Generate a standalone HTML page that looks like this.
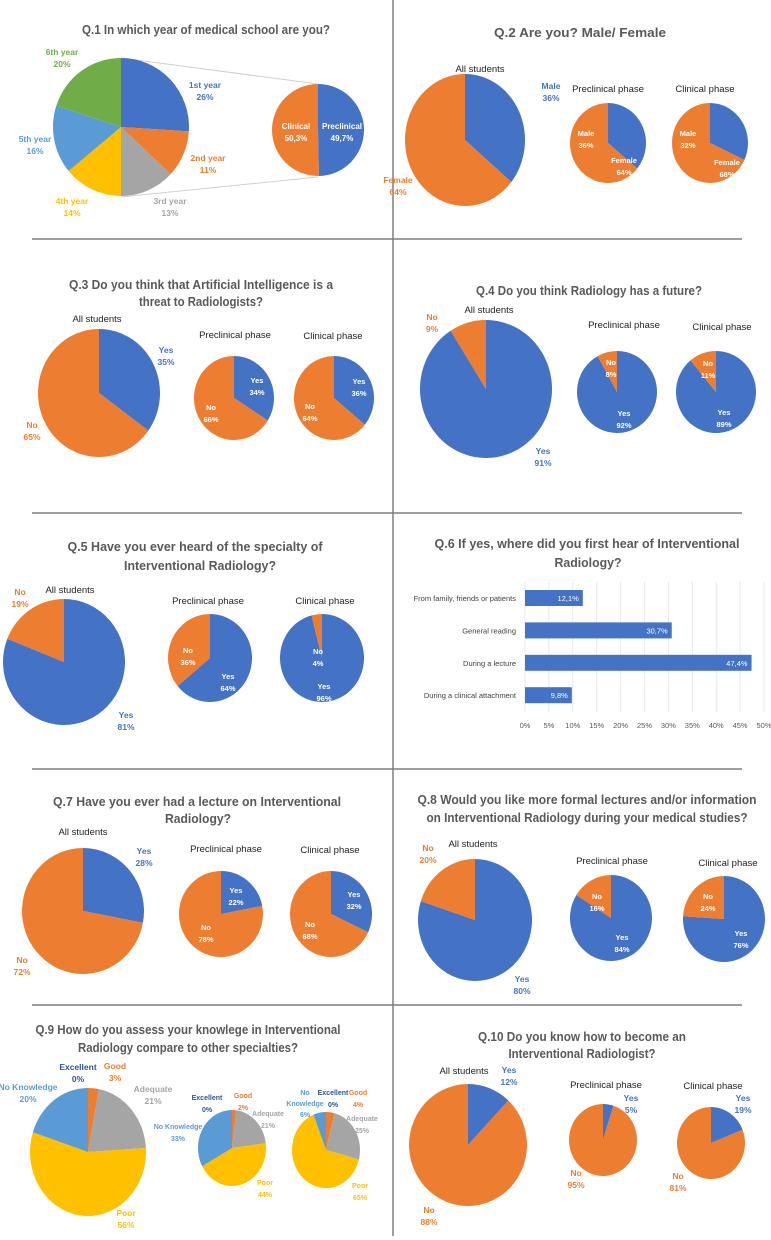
<!DOCTYPE html>
<html><head><meta charset="utf-8"><style>
html,body{margin:0;padding:0;background:#fff;}
svg{display:block;font-family:"Liberation Sans",sans-serif;}
</style></head><body>
<svg id="fig" width="771" height="1240" viewBox="0 0 771 1240" xmlns="http://www.w3.org/2000/svg">
<rect width="771" height="1240" fill="#fff"/>
<g id="dividers" stroke="#7f7f7f" stroke-width="1.5">
<line x1="393" y1="0" x2="393" y2="1236"/>
<line x1="32" y1="239" x2="742" y2="239"/>
<line x1="32" y1="513" x2="742" y2="513"/>
<line x1="32" y1="769" x2="742" y2="769"/>
<line x1="32" y1="1005" x2="742" y2="1005"/>
</g>
<g id="layer"></g>
</svg>
<script>
// ---- data ----
const q1Years = [26, 11, 13, 14, 16, 20];
const q1Phase = [49.7, 50.3];
const q2All = [36, 64], q2Pre = [36, 64], q2Cli = [32, 68];
const q3All = [35, 65], q3Pre = [34, 66], q3Cli = [36, 64];
const q4All = [91, 9], q4Pre = [92, 8], q4Cli = [89, 11];
const q5All = [81, 19], q5Pre = [64, 36], q5Cli = [96, 4];
const q6Categories = ["From family, friends or patients", "General reading", "During a lecture", "During a clinical attachment"];
const q6Values = [12.1, 30.7, 47.4, 9.8];
const q6ValueLabels = ["12,1%", "30,7%", "47,4%", "9,8%"];
const q6Ticks = [0, 5, 10, 15, 20, 25, 30, 35, 40, 45, 50];
const q7All = [28, 72], q7Pre = [22, 78], q7Cli = [32, 68];
const q8All = [80, 20], q8Pre = [84, 16], q8Cli = [76, 24];
// order: Good, Adequate, Poor, No Knowledge, Excellent
const q9All = [3, 21, 56, 20, 0], q9Pre = [2, 21, 44, 33, 0], q9Cli = [4, 25, 65, 6, 0];
const q10All = [12, 88], q10Pre = [5, 95], q10Cli = [19, 81];

const BLUE = "#4472C4", ORANGE = "#ED7D31", GRAY = "#A5A5A5", YELLOW = "#FFC000", LBLUE = "#5B9BD5", GREEN = "#70AD47", TITLE = "#595959";
const NS = "http://www.w3.org/2000/svg";
const layer = document.getElementById("layer");

function mk(tag, attrs, parent) {
  const el = document.createElementNS(NS, tag);
  for (const k in attrs) el.setAttribute(k, attrs[k]);
  (parent || layer).appendChild(el);
  return el;
}
function txt(x, y, s, color, size, weight, anchor, name, len) {
  const el = mk("text", {x: x, y: y, fill: color, "font-size": size, "font-weight": weight, "text-anchor": anchor || "middle"});
  if (len) { el.setAttribute("textLength", len); el.setAttribute("lengthAdjust", "spacingAndGlyphs"); }
  el.textContent = s;
  
  
  return el;
}
function lab(x, y, l1, l2, color, name, size) {
  txt(x, y + 3, l1, color, size || 8.5, "bold", "middle", name + "-label");
  if (l2 !== undefined) txt(x, y + 15, l2, color, size || 8.5, "bold", "middle", name + "-value");
}
function pie(cx, cy, rx, ry, values, colors, name) {
  const g = mk("g", {});
  
  
  const total = values.reduce((a, b) => a + b, 0);
  let acc = 0;
  values.forEach((v, i) => {
    if (v <= 0) { acc += v; return; }
    const a0 = acc / total * 2 * Math.PI; acc += v;
    const a1 = acc / total * 2 * Math.PI;
    const x0 = cx + rx * Math.sin(a0), y0 = cy - ry * Math.cos(a0);
    const x1 = cx + rx * Math.sin(a1), y1 = cy - ry * Math.cos(a1);
    const large = (a1 - a0) > Math.PI ? 1 : 0;
    let d;
    if (v >= total) d = `M${cx - rx},${cy} A${rx},${ry} 0 1 1 ${cx + rx},${cy} A${rx},${ry} 0 1 1 ${cx - rx},${cy} Z`;
    else d = `M${cx},${cy} L${x0},${y0} A${rx},${ry} 0 ${large} 1 ${x1},${y1} Z`;
    const p = mk("path", {d: d, fill: colors[i]}, g);
    
    
  });
}
const YN = [BLUE, ORANGE];

// ---- Q1 ----
txt(206, 34, "Q.1 In which year of medical school  are you?", TITLE, 13, "bold", "middle", "q1-title", 248);
mk("line", {x1: 121, y1: 58, x2: 318, y2: 84, stroke: "#d0d0d0", "stroke-width": 1});
mk("line", {x1: 121, y1: 197, x2: 318, y2: 177, stroke: "#d0d0d0", "stroke-width": 1});
pie(121, 127, 68, 69, q1Years, [BLUE, ORANGE, GRAY, YELLOW, LBLUE, GREEN], "q1-year-pie");
pie(318, 130, 46, 46, q1Phase, [BLUE, ORANGE], "q1-phase-pie");
lab(62, 52, "6th year", "20%", GREEN, "q1-6th");
lab(205, 85, "1st year", "26%", BLUE, "q1-1st");
lab(35, 139, "5th year", "16%", LBLUE, "q1-5th");
lab(208, 158, "2nd year", "11%", ORANGE, "q1-2nd");
lab(72, 201, "4th year", "14%", YELLOW, "q1-4th");
lab(170, 201, "3rd year", "13%", GRAY, "q1-3rd");
lab(296, 126, "Clinical", "50,3%", "#fff", "q1-clinical", 8);
lab(342, 126, "Preclinical", "49,7%", "#fff", "q1-preclinical", 8);

// ---- Q2 ----
txt(580, 37, "Q.2 Are you? Male/ Female", TITLE, 13, "bold", "middle", "q2-title", 172);
txt(480, 72, "All students", "#222", 9.5, "normal", "middle", "q2-all-students");
txt(608, 92, "Preclinical phase", "#222", 9.5, "normal", "middle", "q2-preclinical");
txt(705, 92, "Clinical phase", "#222", 9.5, "normal", "middle", "q2-clinical");
pie(465, 140, 60, 66, q2All, YN, "q2-all-pie");
pie(608, 143, 38, 40, q2Pre, YN, "q2-pre-pie");
pie(710, 143, 38, 40, q2Cli, YN, "q2-cli-pie");
lab(551, 86, "Male", "36%", BLUE, "q2-all-male");
lab(398, 180, "Female", "64%", ORANGE, "q2-all-female");
lab(586, 133, "Male", "36%", "#fff", "q2-pre-male", 7.5);
lab(624, 160, "Female", "64%", "#fff", "q2-pre-female", 7.5);
lab(688, 133, "Male", "32%", "#fff", "q2-cli-male", 7.5);
lab(727, 162, "Female", "68%", "#fff", "q2-cli-female", 7.5);

// ---- Q3 ----
txt(201, 289, "Q.3 Do you think that  Artificial Intelligence is  a", TITLE, 13, "bold", "middle", "q3-title-1", 264);
txt(201, 306, "threat to Radiologists?", TITLE, 13, "bold", "middle", "q3-title-2", 124);
txt(97, 322, "All students", "#222", 9.5, "normal", "middle", "q3-all-students");
txt(235, 338, "Preclinical phase", "#222", 9.5, "normal", "middle", "q3-preclinical");
txt(333, 339, "Clinical phase", "#222", 9.5, "normal", "middle", "q3-clinical");
pie(99, 393, 61, 64, q3All, YN, "q3-all-pie");
pie(234, 398, 40, 42, q3Pre, YN, "q3-pre-pie");
pie(334, 398, 40, 42, q3Cli, YN, "q3-cli-pie");
lab(166, 350, "Yes", "35%", BLUE, "q3-all-yes");
lab(32, 425, "No", "65%", ORANGE, "q3-all-no");
lab(257, 380, "Yes", "34%", "#fff", "q3-pre-yes", 7.5);
lab(211, 407, "No", "66%", "#fff", "q3-pre-no", 7.5);
lab(359, 381, "Yes", "36%", "#fff", "q3-cli-yes", 7.5);
lab(310, 406, "No", "64%", "#fff", "q3-cli-no", 7.5);

// ---- Q4 ----
txt(589, 295, "Q.4 Do you think Radiology has a future?", TITLE, 13, "bold", "middle", "q4-title", 226);
txt(489, 313, "All students", "#222", 9.5, "normal", "middle", "q4-all-students");
txt(624, 328, "Preclinical phase", "#222", 9.5, "normal", "middle", "q4-preclinical");
txt(722, 330, "Clinical phase", "#222", 9.5, "normal", "middle", "q4-clinical");
pie(486, 389, 66, 69, q4All, YN, "q4-all-pie");
pie(617, 392, 40, 41, q4Pre, YN, "q4-pre-pie");
pie(716, 392, 40, 41, q4Cli, YN, "q4-cli-pie");
lab(432, 317, "No", "9%", ORANGE, "q4-all-no");
lab(543, 451, "Yes", "91%", BLUE, "q4-all-yes");
lab(611, 362, "No", "8%", "#fff", "q4-pre-no", 7.5);
lab(624, 413, "Yes", "92%", "#fff", "q4-pre-yes", 7.5);
lab(708, 363, "No", "11%", "#fff", "q4-cli-no", 7.5);
lab(724, 412, "Yes", "89%", "#fff", "q4-cli-yes", 7.5);

// ---- Q5 ----
txt(195, 551, "Q.5 Have you ever heard of the specialty of", TITLE, 13, "bold", "middle", "q5-title-1", 255);
txt(200, 570, "Interventional Radiology?", TITLE, 13, "bold", "middle", "q5-title-2", 152);
txt(70, 593, "All students", "#222", 9.5, "normal", "middle", "q5-all-students");
txt(208, 604, "Preclinical phase", "#222", 9.5, "normal", "middle", "q5-preclinical");
txt(325, 604, "Clinical phase", "#222", 9.5, "normal", "middle", "q5-clinical");
pie(64, 662, 61, 63, q5All, YN, "q5-all-pie");
pie(210, 658, 42, 44, q5Pre, YN, "q5-pre-pie");
pie(322, 658, 42, 44, q5Cli, YN, "q5-cli-pie");
lab(20, 592, "No", "19%", ORANGE, "q5-all-no");
lab(126, 715, "Yes", "81%", BLUE, "q5-all-yes");
lab(188, 650, "No", "36%", "#fff", "q5-pre-no", 7.5);
lab(228, 676, "Yes", "64%", "#fff", "q5-pre-yes", 7.5);
lab(318, 651, "No", "4%", "#fff", "q5-cli-no", 7.5);
lab(324, 686, "Yes", "96%", "#fff", "q5-cli-yes", 7.5);

// ---- Q6 bar chart ----
txt(587, 548, "Q.6 If yes, where did you first hear of Interventional", TITLE, 13, "bold", "middle", "q6-title-1", 305);
txt(588, 567, "Radiology?", TITLE, 13, "bold", "middle", "q6-title-2", 67);
const x6 = v => 525 + v * 4.78;
const y6 = i => 598 + i * 32.4;
q6Ticks.forEach(t => {
  const gl = mk("line", {x1: x6(t), y1: 582, x2: x6(t), y2: 712, stroke: "#e2e2e2", "stroke-width": 0.8});
  
  
  txt(x6(t), 728, t + "%", "#595959", 7.5, "normal", "middle", "q6-x-tick");
});
q6Values.forEach((v, i) => {
  const r = mk("rect", {x: x6(0), y: y6(i) - 8, width: x6(v) - x6(0), height: 16, fill: BLUE});
  
  
  txt(x6(v) - 4, y6(i) + 3, q6ValueLabels[i], "#fff", 7.5, "normal", "end", "q6-bar-value");
  txt(516, y6(i) + 3, q6Categories[i], "#404040", 7.5, "normal", "end", "q6-category-label");
});

// ---- Q7 ----
txt(197, 806, "Q.7 Have you ever had a lecture on Interventional", TITLE, 13, "bold", "middle", "q7-title-1", 288);
txt(198, 823, "Radiology?", TITLE, 13, "bold", "middle", "q7-title-2", 66);
txt(83, 835, "All students", "#222", 9.5, "normal", "middle", "q7-all-students");
txt(226, 852, "Preclinical phase", "#222", 9.5, "normal", "middle", "q7-preclinical");
txt(330, 853, "Clinical phase", "#222", 9.5, "normal", "middle", "q7-clinical");
pie(83, 911, 61, 63, q7All, YN, "q7-all-pie");
pie(221, 914, 42, 43, q7Pre, YN, "q7-pre-pie");
pie(331, 914, 41, 43, q7Cli, YN, "q7-cli-pie");
lab(144, 851, "Yes", "28%", BLUE, "q7-all-yes");
lab(22, 960, "No", "72%", ORANGE, "q7-all-no");
lab(236, 890, "Yes", "22%", "#fff", "q7-pre-yes", 7.5);
lab(206, 927, "No", "78%", "#fff", "q7-pre-no", 7.5);
lab(354, 894, "Yes", "32%", "#fff", "q7-cli-yes", 7.5);
lab(310, 924, "No", "68%", "#fff", "q7-cli-no", 7.5);

// ---- Q8 ----
txt(587, 804, "Q.8 Would you like more formal lectures and/or information", TITLE, 13, "bold", "middle", "q8-title-1", 339);
txt(587, 822, "on Interventional Radiology during your medical studies?", TITLE, 13, "bold", "middle", "q8-title-2", 321);
txt(473, 847, "All students", "#222", 9.5, "normal", "middle", "q8-all-students");
txt(612, 864, "Preclinical phase", "#222", 9.5, "normal", "middle", "q8-preclinical");
txt(728, 866, "Clinical phase", "#222", 9.5, "normal", "middle", "q8-clinical");
pie(475, 920, 57, 61, q8All, YN, "q8-all-pie");
pie(611, 918, 41, 43, q8Pre, YN, "q8-pre-pie");
pie(724, 919, 41, 43, q8Cli, YN, "q8-cli-pie");
lab(428, 848, "No", "20%", ORANGE, "q8-all-no");
lab(522, 979, "Yes", "80%", BLUE, "q8-all-yes");
lab(597, 896, "No", "16%", "#fff", "q8-pre-no", 7.5);
lab(622, 937, "Yes", "84%", "#fff", "q8-pre-yes", 7.5);
lab(708, 896, "No", "24%", "#fff", "q8-cli-no", 7.5);
lab(741, 933, "Yes", "76%", "#fff", "q8-cli-yes", 7.5);

// ---- Q9 ----
const K9 = [ORANGE, GRAY, YELLOW, LBLUE, BLUE];
txt(188, 1034, "Q.9 How do you assess your knowlege in Interventional", TITLE, 13, "bold", "middle", "q9-title-1", 305);
txt(188, 1052, "Radiology compare to other specialties?", TITLE, 13, "bold", "middle", "q9-title-2", 220);
pie(88, 1152, 58, 64, q9All, K9, "q9-all-pie");
pie(232, 1148, 34, 38, q9Pre, K9, "q9-pre-pie");
pie(326, 1150, 34, 38, q9Cli, K9, "q9-cli-pie");
lab(78, 1067, "Excellent", "0%", "#2F5597", "q9-all-excellent", 8.5);
lab(115, 1066, "Good", "3%", ORANGE, "q9-all-good", 8.5);
lab(28, 1087, "No Knowledge", "20%", LBLUE, "q9-all-noknowledge", 8.5);
lab(153, 1089, "Adequate", "21%", GRAY, "q9-all-adequate", 8.5);
lab(126, 1213, "Poor", "56%", YELLOW, "q9-all-poor", 8.5);
lab(207, 1097, "Excellent", "0%", "#2F5597", "q9-pre-excellent", 7);
lab(243, 1095, "Good", "2%", ORANGE, "q9-pre-good", 7);
lab(268, 1113, "Adequate", "21%", GRAY, "q9-pre-adequate", 7);
lab(178, 1126, "No Knowledge", "33%", LBLUE, "q9-pre-noknowledge", 7);
lab(265, 1182, "Poor", "44%", YELLOW, "q9-pre-poor", 7);
txt(305, 1095, "No", LBLUE, 7, "bold", "middle", "q9-cli-noknowledge-label");
txt(305, 1106, "Knowledge", LBLUE, 7, "bold", "middle", "q9-cli-noknowledge-label-2");
txt(305, 1117, "6%", LBLUE, 7, "bold", "middle", "q9-cli-noknowledge-value");
lab(333, 1092, "Excellent", "0%", "#2F5597", "q9-cli-excellent", 7);
lab(358, 1092, "Good", "4%", ORANGE, "q9-cli-good", 7);
lab(362, 1118, "Adequate", "25%", GRAY, "q9-cli-adequate", 7);
lab(360, 1185, "Poor", "65%", YELLOW, "q9-cli-poor", 7);

// ---- Q10 ----
txt(582, 1041, "Q.10 Do you know how to become an", TITLE, 13, "bold", "middle", "q10-title-1", 208);
txt(582, 1058, "Interventional Radiologist?", TITLE, 13, "bold", "middle", "q10-title-2", 147);
txt(464, 1074, "All students", "#222", 9.5, "normal", "middle", "q10-all-students");
txt(606, 1088, "Preclinical phase", "#222", 9.5, "normal", "middle", "q10-preclinical");
txt(713, 1089, "Clinical phase", "#222", 9.5, "normal", "middle", "q10-clinical");
pie(468, 1145, 59, 61, q10All, YN, "q10-all-pie");
pie(603, 1140, 34, 36, q10Pre, YN, "q10-pre-pie");
pie(711, 1143, 34, 36, q10Cli, YN, "q10-cli-pie");
lab(509, 1070, "Yes", "12%", BLUE, "q10-all-yes");
lab(429, 1210, "No", "88%", ORANGE, "q10-all-no");
lab(631, 1098, "Yes", "5%", BLUE, "q10-pre-yes");
lab(576, 1173, "No", "95%", ORANGE, "q10-pre-no");
lab(743, 1098, "Yes", "19%", BLUE, "q10-cli-yes");
lab(678, 1176, "No", "81%", ORANGE, "q10-cli-no");
</script>
</body></html>
